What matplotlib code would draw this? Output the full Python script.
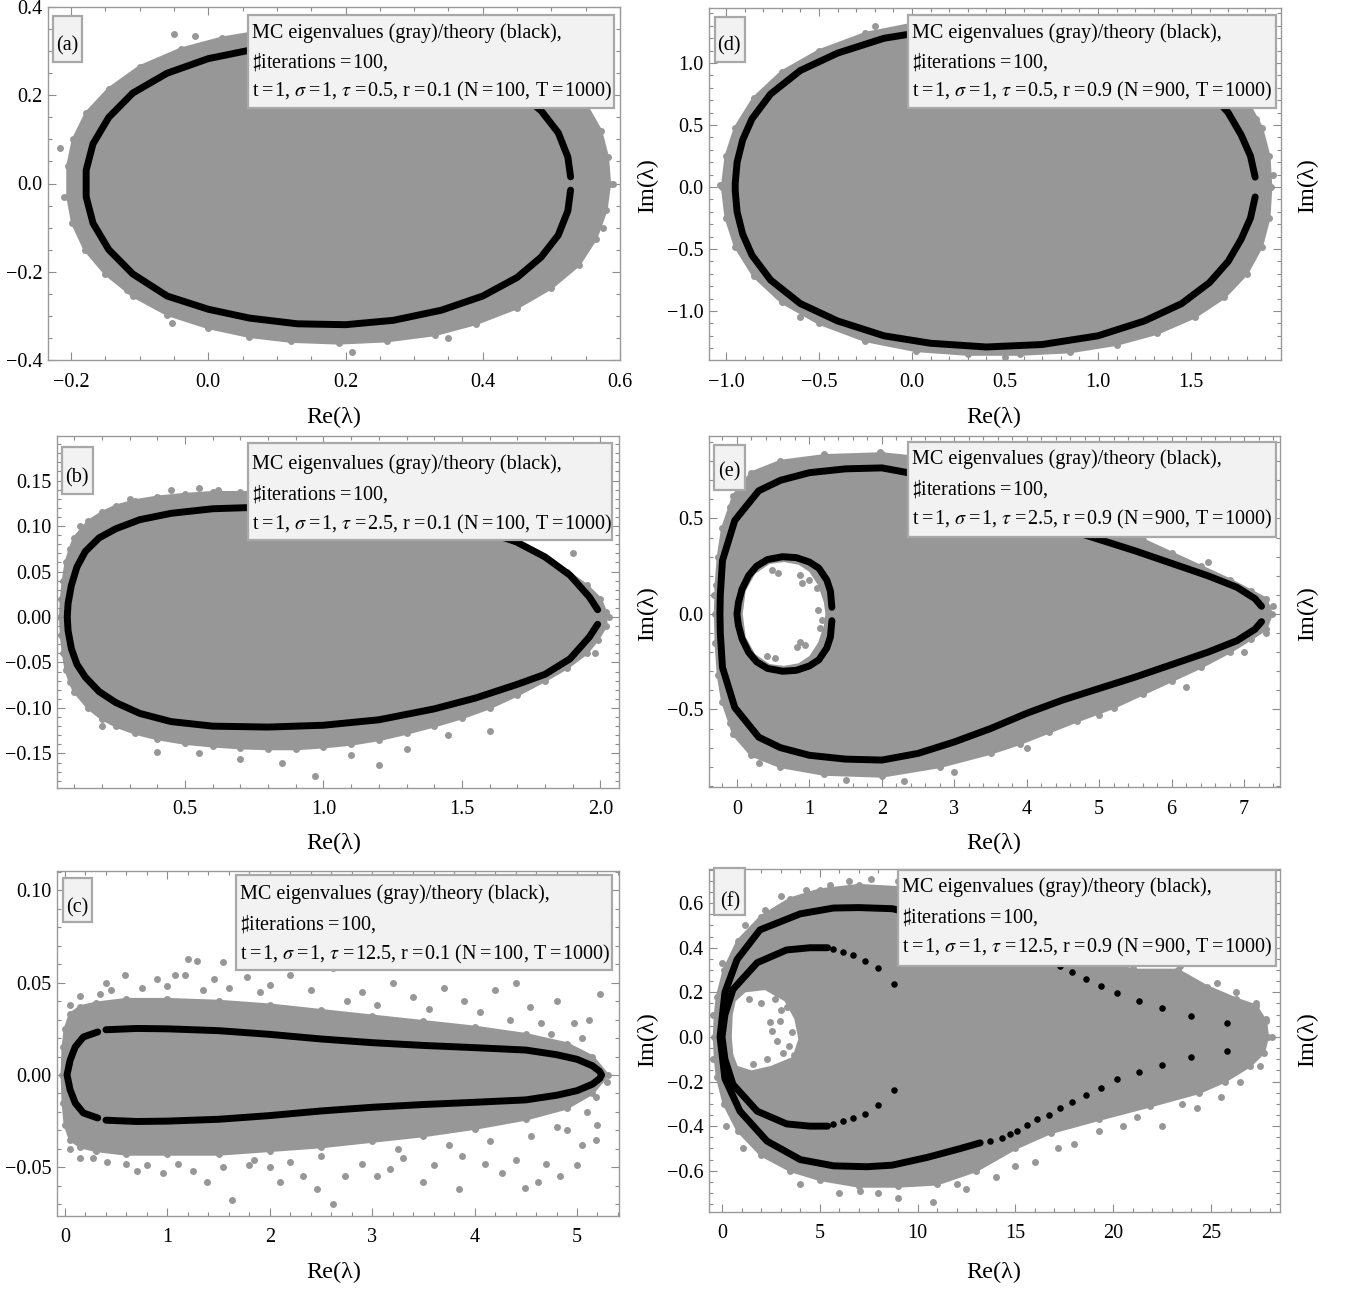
import numpy as np
import matplotlib.pyplot as plt
from matplotlib.patches import Rectangle
from matplotlib.ticker import MultipleLocator

plt.rcParams['font.family'] = ['Liberation Serif', 'DejaVu Serif']
plt.rcParams['mathtext.fontset'] = 'stix'

W, H = 1348, 1290
GRAY = '#979797'
BOXFACE = '#f2f2f2'
BOXEDGE = '#a8a8a8'

# ---------------- data ----------------
# (a) tau=0.5, r=0.1
a_cloud = [(0.585, 0.0), (0.582, 0.06), (0.572, 0.12), (0.55, 0.18), (0.52, 0.23), (0.48, 0.275),
           (0.43, 0.31), (0.37, 0.335), (0.3, 0.35), (0.23, 0.356), (0.16, 0.356), (0.09, 0.348),
           (0.02, 0.33), (-0.04, 0.305), (-0.1, 0.265), (-0.145, 0.215), (-0.178, 0.16), (-0.197, 0.1),
           (-0.205, 0.04), (-0.205, -0.03), (-0.198, -0.09), (-0.18, -0.15), (-0.15, -0.205),
           (-0.11, -0.255), (-0.06, -0.297), (0.0, -0.327), (0.06, -0.347), (0.12, -0.358),
           (0.19, -0.362), (0.26, -0.357), (0.33, -0.343), (0.39, -0.318), (0.45, -0.282),
           (0.5, -0.237), (0.54, -0.185), (0.565, -0.125), (0.58, -0.06)]
a_scatter = [(-0.216, 0.08), (-0.05, 0.338), (0.209, -0.382), (-0.053, -0.317), (-0.118, -0.242),
             (-0.02, 0.335), (0.59, 0.0), (0.575, -0.1), (0.35, -0.35), (-0.21, -0.03), (0.1, 0.358)]
a_theory = [(0.528, 0.015), (0.524, 0.06), (0.51, 0.115), (0.485, 0.165), (0.45, 0.21), (0.4, 0.253),
            (0.34, 0.285), (0.27, 0.308), (0.2, 0.318), (0.13, 0.316), (0.06, 0.302), (0.0, 0.283),
            (-0.06, 0.25), (-0.11, 0.205), (-0.145, 0.15), (-0.168, 0.09), (-0.178, 0.03), (-0.178, -0.03),
            (-0.168, -0.09), (-0.145, -0.15), (-0.11, -0.205), (-0.06, -0.255), (0.0, -0.285),
            (0.06, -0.305), (0.13, -0.318), (0.2, -0.32), (0.27, -0.31), (0.34, -0.287), (0.4, -0.255),
            (0.45, -0.213), (0.485, -0.167), (0.51, -0.117), (0.524, -0.062), (0.528, -0.015)]

# (d) tau=0.5, r=0.9
d_cloud = [(1.93, 0.0), (1.92, 0.25), (1.88, 0.48), (1.8, 0.7), (1.68, 0.9), (1.52, 1.06), (1.32, 1.19),
           (1.1, 1.28), (0.85, 1.34), (0.58, 1.37), (0.3, 1.36), (0.02, 1.32), (-0.25, 1.24), (-0.5, 1.1),
           (-0.7, 0.93), (-0.85, 0.72), (-0.95, 0.48), (-1.0, 0.25), (-1.02, 0.0), (-1.0, -0.25),
           (-0.95, -0.48), (-0.85, -0.72), (-0.7, -0.93), (-0.5, -1.1), (-0.25, -1.24), (0.02, -1.32),
           (0.3, -1.35), (0.58, -1.35), (0.85, -1.33), (1.1, -1.27), (1.32, -1.18), (1.52, -1.05),
           (1.68, -0.89), (1.8, -0.7), (1.88, -0.48), (1.92, -0.25)]
d_scatter = [(-1.03, 0.02), (-0.92, 0.47), (-0.79, 0.71), (1.62, -0.85), (1.91, -0.03), (1.94, 0.1),
             (-0.6, -1.05), (0.5, -1.37), (-0.2, 1.3), (1.5, 1.02), (1.85, 0.55), (1.7, -0.8)]
d_theory = [(1.845, 0.08), (1.82, 0.25), (1.77, 0.42), (1.7, 0.6), (1.6, 0.77), (1.45, 0.94),
            (1.25, 1.08), (1.0, 1.2), (0.7, 1.27), (0.4, 1.29), (0.1, 1.26), (-0.15, 1.2), (-0.4, 1.08),
            (-0.6, 0.94), (-0.76, 0.75), (-0.86, 0.55), (-0.91, 0.38), (-0.94, 0.2), (-0.95, 0.03),
            (-0.95, -0.03), (-0.94, -0.2), (-0.91, -0.38), (-0.86, -0.55), (-0.76, -0.75), (-0.6, -0.94),
            (-0.4, -1.08), (-0.15, -1.2), (0.1, -1.26), (0.4, -1.29), (0.7, -1.27), (1.0, -1.2),
            (1.25, -1.08), (1.45, -0.94), (1.6, -0.77), (1.7, -0.6), (1.77, -0.42), (1.82, -0.25),
            (1.845, -0.08)]

# (b) tau=2.5, r=0.1
b_cloud = [(0.05, 0.0), (0.053, 0.02), (0.06, 0.04), (0.07, 0.06), (0.085, 0.075), (0.1, 0.087),
           (0.15, 0.105), (0.2, 0.115), (0.25, 0.122), (0.32, 0.128), (0.4, 0.132), (0.5, 0.135),
           (0.6, 0.137), (0.7, 0.137), (0.8, 0.137), (0.9, 0.135), (1.0, 0.132), (1.1, 0.128),
           (1.2, 0.123), (1.3, 0.116), (1.4, 0.108), (1.5, 0.099), (1.6, 0.088), (1.7, 0.076),
           (1.8, 0.063), (1.88, 0.05), (1.95, 0.035), (2.0, 0.02), (2.02, 0.005), (2.02, -0.01),
           (1.99, -0.025), (1.95, -0.04), (1.88, -0.056), (1.8, -0.07), (1.7, -0.086), (1.6, -0.1),
           (1.5, -0.111), (1.4, -0.12), (1.3, -0.128), (1.2, -0.135), (1.1, -0.14), (1.0, -0.143),
           (0.9, -0.145), (0.8, -0.145), (0.7, -0.144), (0.6, -0.142), (0.5, -0.139), (0.4, -0.134),
           (0.32, -0.128), (0.25, -0.12), (0.2, -0.112), (0.15, -0.1), (0.1, -0.082), (0.085, -0.072),
           (0.07, -0.058), (0.06, -0.04), (0.053, -0.02)]
b_scatter = [(0.55, 0.142), (0.62, 0.14), (0.3, 0.13), (1.45, 0.118), (1.7, 0.092), (1.9, 0.07),
             (2.03, 0.0), (1.98, -0.04), (1.6, -0.125), (1.3, -0.145), (0.7, -0.156), (0.85, -0.16),
             (0.4, -0.148), (0.2, -0.12), (0.97, -0.175), (1.2, -0.163), (0.28, -0.118), (1.1, -0.152),
             (0.45, 0.14), (0.75, 0.143), (1.55, 0.105), (1.45, -0.13), (0.55, -0.15), (0.12, 0.1)]
b_theory = [(1.99, 0.008), (1.96, 0.022), (1.89, 0.046), (1.8, 0.066), (1.7, 0.082), (1.55, 0.098),
            (1.4, 0.108), (1.2, 0.116), (1.0, 0.12), (0.8, 0.121), (0.6, 0.119), (0.45, 0.114),
            (0.337, 0.107), (0.25, 0.097), (0.19, 0.087), (0.14, 0.072), (0.11, 0.055), (0.09, 0.035),
            (0.078, 0.015), (0.075, 0.0), (0.078, -0.015), (0.09, -0.035), (0.11, -0.052),
            (0.14, -0.066), (0.19, -0.082), (0.25, -0.094), (0.337, -0.106), (0.45, -0.115),
            (0.6, -0.12), (0.8, -0.121), (1.0, -0.119), (1.2, -0.113), (1.4, -0.101), (1.55, -0.089),
            (1.7, -0.074), (1.8, -0.063), (1.89, -0.046), (1.96, -0.022), (1.99, -0.008)]

# (e) tau=2.5, r=0.9
e_cloud = [(-0.3, 0.0), (-0.29, 0.15), (-0.26, 0.3), (-0.2, 0.45), (-0.1, 0.56), (-0.05, 0.62),
           (0.2, 0.74), (0.6, 0.8), (1.2, 0.83), (2.0, 0.84), (2.5, 0.82), (2.8, 0.8), (3.5, 0.72),
           (4.3, 0.6), (5.2, 0.45), (5.6, 0.39), (6.0, 0.32), (6.4, 0.25), (6.8, 0.18), (7.1, 0.12),
           (7.3, 0.08), (7.38, 0.0), (7.3, -0.08), (7.1, -0.13), (6.8, -0.2), (6.4, -0.28),
           (6.0, -0.35), (5.6, -0.42), (5.2, -0.49), (4.7, -0.56), (4.3, -0.62), (3.9, -0.68),
           (3.5, -0.73), (2.8, -0.8), (2.0, -0.85), (1.2, -0.84), (0.6, -0.8), (0.2, -0.74),
           (-0.05, -0.63), (-0.1, -0.57), (-0.2, -0.46), (-0.26, -0.32), (-0.29, -0.15)]
e_hole = [(0.08, 0.0), (0.12, 0.12), (0.25, 0.21), (0.45, 0.262), (0.65, 0.272), (0.85, 0.258),
          (1.0, 0.22), (1.12, 0.15), (1.2, 0.06), (1.22, 0.0), (1.2, -0.06), (1.12, -0.15),
          (1.0, -0.22), (0.85, -0.258), (0.65, -0.272), (0.45, -0.262), (0.25, -0.21), (0.12, -0.12)]
e_scatter = [(1.97, 0.85), (1.2, 0.84), (0.0, 0.66), (-0.32, 0.1), (-0.3, -0.15), (0.3, -0.78),
             (1.5, -0.87), (2.3, -0.875), (3.0, -0.83), (4.0, -0.7), (5.0, -0.53), (6.2, -0.38),
             (7.0, -0.2), (7.4, 0.04), (7.3, -0.1), (6.5, 0.27), (5.6, 0.42),
             (0.57, 0.215), (0.87, 0.204), (1.0, 0.178), (0.9, 0.162), (1.12, 0.02), (1.17, -0.03),
             (1.15, -0.073), (0.87, -0.147), (0.94, -0.162), (0.41, -0.22), (0.52, -0.23),
             (0.83, -0.173), (0.48, 0.23), (1.1, 0.136)]
e_outer = [(7.24, 0.04), (7.15, 0.08), (6.9, 0.14), (6.5, 0.2), (6.0, 0.265), (5.5, 0.33), (5.0, 0.39),
           (4.5, 0.45), (4.0, 0.52), (3.5, 0.6), (3.0, 0.67), (2.5, 0.73), (2.0, 0.765), (1.5, 0.76),
           (1.0, 0.74), (0.6, 0.7), (0.3, 0.645), (-0.03, 0.49), (-0.2, 0.28), (-0.23, 0.1),
           (-0.235, 0.0), (-0.23, -0.1), (-0.2, -0.28), (-0.03, -0.49), (0.3, -0.645), (0.6, -0.7),
           (1.0, -0.74), (1.5, -0.76), (2.0, -0.765), (2.5, -0.73), (3.0, -0.67), (3.5, -0.6),
           (4.0, -0.52), (4.5, -0.45), (5.0, -0.39), (5.5, -0.33), (6.0, -0.265), (6.5, -0.2),
           (6.9, -0.14), (7.15, -0.08), (7.24, -0.04)]
e_inner = [(1.31, 0.035), (1.29, 0.12), (1.24, 0.178), (1.13, 0.24), (1.0, 0.272), (0.82, 0.295),
           (0.63, 0.3), (0.42, 0.285), (0.27, 0.25), (0.16, 0.2), (0.07, 0.13), (0.02, 0.06), (0.0, 0.0),
           (0.02, -0.06), (0.07, -0.13), (0.16, -0.2), (0.27, -0.25), (0.42, -0.285), (0.63, -0.3),
           (0.82, -0.295), (1.0, -0.272), (1.13, -0.24), (1.24, -0.178), (1.29, -0.12), (1.31, -0.035)]

# (c) tau=12.5, r=0.1
c_cloud = [(-0.03, 0.0), (-0.02, 0.015), (0.0, 0.025), (0.05, 0.033), (0.15, 0.037), (0.3, 0.039),
           (0.6, 0.041), (1.0, 0.041), (1.5, 0.04), (2.0, 0.038), (2.5, 0.035), (3.0, 0.032),
           (3.5, 0.029), (4.0, 0.026), (4.5, 0.022), (4.9, 0.017), (5.15, 0.01), (5.3, 0.0),
           (5.15, -0.01), (4.9, -0.018), (4.5, -0.024), (4.0, -0.029), (3.5, -0.033), (3.0, -0.036),
           (2.5, -0.039), (2.0, -0.041), (1.5, -0.043), (1.0, -0.043), (0.6, -0.043), (0.3, -0.041),
           (0.15, -0.039), (0.05, -0.035), (0.0, -0.027), (-0.02, -0.015)]
c_scatter = [(1.2, 0.063), (1.29, 0.062), (1.54, 0.061), (1.17, 0.054), (1.07, 0.054), (0.9, 0.052),
             (0.59, 0.054), (1.46, 0.052), (1.78, 0.053), (2.0, 0.049), (0.34, 0.044), (0.27, -0.045),
             (0.41, -0.047), (0.6, -0.048), (0.96, -0.053), (1.39, -0.058), (1.63, -0.068),
             (2.1, -0.058), (2.46, -0.062), (2.62, -0.07), (1.54, -0.05), (1.8, -0.049), (2.32, -0.055),
             (2.2, 0.054), (2.62, 0.058), (4.97, 0.028), (4.8, 0.04), (4.54, 0.037), (5.19, -0.012),
             (5.2, -0.027), (5.19, -0.035), (5.0, -0.049), (4.83, -0.055), (4.62, -0.058),
             (4.49, -0.061), (3.85, -0.062), (3.5, -0.058), (4.27, -0.053), (3.05, -0.055),
             (2.73, -0.055), (3.6, -0.049), (4.1, -0.048), (3.17, -0.051), (3.88, -0.044),
             (5.29, -0.004), (4.7, -0.048), (5.12, 0.03), (5.22, 0.044), (2.9, 0.045), (3.2, 0.05),
             (3.4, 0.042), (3.7, 0.047), (3.9, 0.04), (4.2, 0.046), (4.4, 0.05), (2.4, 0.046),
             (1.9, 0.045), (1.6, 0.047), (0.75, 0.047), (0.45, 0.046), (0.15, 0.043), (0.15, -0.045),
             (0.8, -0.049), (1.1, -0.048), (1.25, -0.052), (2.0, -0.05), (2.9, -0.048), (3.3, -0.045),
             (4.4, -0.046), (5.05, -0.038), (4.9, -0.03), (2.75, 0.04), (3.05, 0.038), (3.55, 0.036),
             (4.05, 0.034), (4.35, 0.03), (4.65, 0.028), (4.75, 0.022), (5.05, 0.02), (3.25, -0.04),
             (3.75, -0.038), (4.15, -0.036), (4.55, -0.033), (4.8, -0.028), (5.1, -0.02), (2.5, -0.044),
             (0.05, 0.038), (0.05, -0.04), (1.35, 0.046), (1.85, -0.046), (2.2, -0.047), (0.4, 0.05),
             (1.0, 0.048), (0.7, -0.052)]
c_cap = [(0.32, 0.0233), (0.18, 0.0206), (0.1, 0.0152), (0.05, 0.008), (0.02, 0.0), (0.05, -0.008),
         (0.1, -0.0152), (0.18, -0.0206), (0.32, -0.0233)]
c_branch = [(0.4, 0.0245), (0.7, 0.0252), (1.0, 0.025), (1.5, 0.024), (2.0, 0.022), (2.5, 0.0195),
            (3.0, 0.0175), (3.5, 0.016), (4.0, 0.0148), (4.5, 0.0135), (4.8, 0.011), (5.0, 0.0085),
            (5.15, 0.005), (5.22, 0.002), (5.24, 0.0), (5.22, -0.002), (5.15, -0.005), (5.0, -0.0085),
            (4.8, -0.011), (4.5, -0.0135), (4.0, -0.0148), (3.5, -0.016), (3.0, -0.0175),
            (2.5, -0.0195), (2.0, -0.022), (1.5, -0.024), (1.0, -0.025), (0.7, -0.0252),
            (0.4, -0.0245)]

# (f) tau=12.5, r=0.9
f_cloud = [(-0.4, 0.0), (-0.35, 0.1), (-0.25, 0.18), (0.1, 0.3), (0.8, 0.43), (2.0, 0.54), (3.5, 0.62),
           (5.0, 0.66), (7.0, 0.68), (9.0, 0.67), (11.0, 0.63), (13.0, 0.57), (15.0, 0.5), (17.0, 0.43),
           (19.0, 0.36), (21.0, 0.3), (23.3, 0.3), (24.8, 0.226), (26.3, 0.17), (27.3, 0.14),
           (27.8, 0.07), (27.9, 0.0), (27.7, -0.07), (27.0, -0.13), (25.7, -0.2), (24.4, -0.25),
           (21.9, -0.31), (19.3, -0.37), (16.8, -0.43), (15.0, -0.5), (13.0, -0.6), (11.0, -0.66),
           (9.0, -0.67), (7.0, -0.67), (5.0, -0.64), (3.5, -0.6), (2.0, -0.53), (0.8, -0.42),
           (0.1, -0.3), (-0.25, -0.18), (-0.35, -0.1)]
f_hole = [(0.5, 0.0), (0.55, 0.1), (0.7, 0.16), (1.2, 0.2), (2.2, 0.21), (3.2, 0.16), (3.7, 0.08),
          (3.9, -0.01), (3.6, -0.09), (2.5, -0.13), (1.5, -0.15), (0.8, -0.13), (0.58, -0.08)]
f_scatter = [(7.6, 0.71), (9.0, 0.7), (5.5, 0.68), (3.0, 0.63), (1.2, 0.5), (0.0, 0.33), (-0.45, 0.1),
             (-0.45, -0.1), (0.2, -0.4), (1.07, -0.5), (4.0, -0.66), (6.0, -0.7), (7.05, -0.69),
             (9.0, -0.72), (10.8, -0.74), (12.5, -0.68), (14.0, -0.63), (16.0, -0.56), (18.0, -0.48),
             (19.3, -0.42), (20.5, -0.4), (22.5, -0.4), (24.3, -0.32), (25.5, -0.27), (26.5, -0.2),
             (27.5, -0.13), (28.1, 0.0), (27.8, 0.08), (27.3, 0.15), (26.3, 0.2), (25.3, 0.24),
             (23.4, 0.32), (21.0, 0.31), (19.5, 0.34), (6.5, 0.7), (4.3, 0.66), (2.2, 0.57),
             (12.0, -0.66), (15.0, -0.58), (17.2, -0.5), (21.2, -0.36), (23.5, -0.3), (8.0, -0.7),
             (2.45, 0.067), (2.96, 0.072), (2.55, 0.028), (3.1, -0.07), (3.6, 0.02), (3.3, 0.135),
             (2.3, -0.1), (3.0, 0.12), (3.4, -0.04), (2.8, -0.02), (2.0, 0.15), (3.7, -0.08),
             (1.6, -0.12), (2.7, 0.17), (1.4, 0.17)]
f_outer = [(14.3, 0.453), (12.2, 0.5), (10.5, 0.54), (8.7, 0.575), (7.0, 0.58), (5.7, 0.578),
           (4.0, 0.552), (1.94, 0.48), (0.77, 0.347), (0.15, 0.2), (-0.1, 0.0), (0.15, -0.187),
           (0.92, -0.333), (2.3, -0.467), (4.0, -0.55), (5.7, -0.578), (7.4, -0.582), (8.7, -0.575),
           (10.5, -0.54), (12.2, -0.5), (13.2, -0.475)]
f_outer_dots = [(13.7, -0.465), (14.3, -0.455), (14.7, -0.437), (15.1, -0.42), (15.6, -0.395),
                (16.1, -0.37), (16.7, -0.35), (17.3, -0.32), (17.9, -0.29), (18.6, -0.26),
                (19.4, -0.227), (20.2, -0.19), (21.3, -0.157), (22.5, -0.124), (24.0, -0.089),
                (25.8, -0.062), (25.8, 0.062), (24.0, 0.093), (22.5, 0.129), (21.3, 0.16),
                (20.2, 0.196), (19.4, 0.227), (18.6, 0.262), (17.9, 0.293), (17.3, 0.32)]
f_inner = [(5.4, 0.4), (4.5, 0.4), (3.3, 0.39), (1.8, 0.333), (0.56, 0.213), (0.15, 0.1), (0.0, 0.0),
           (0.15, -0.1), (0.56, -0.213), (1.8, -0.333), (3.3, -0.39), (4.5, -0.4), (5.4, -0.4)]
f_inner_dots = [(5.7, 0.396), (6.2, 0.382), (6.7, 0.369), (7.3, 0.342), (8.0, 0.307), (8.8, 0.236),
                (5.7, -0.39), (6.2, -0.378), (6.7, -0.364), (7.3, -0.347), (8.0, -0.307),
                (8.8, -0.236)]

taus = ['0.5', '2.5', '12.5']

EQ = '\u2009=\u200a'


def to_xy(pts):
    arr = np.array(pts, dtype=float)
    return arr[:, 0], arr[:, 1]


def fx(px):
    return px / W


def fy(py):
    return 1 - py / H


def add_axes_px(fig, l, t, r, b):
    return fig.add_axes([fx(l), fy(b), (r - l) / W, (b - t) / H])


def style_axes(ax, xlim, ylim, xmaj, xmin, ymaj, ymin, xfmt, yfmt):
    ax.set_xlim(*xlim)
    ax.set_ylim(*ylim)
    ax.xaxis.set_major_locator(MultipleLocator(xmaj))
    ax.xaxis.set_minor_locator(MultipleLocator(xmin))
    ax.yaxis.set_major_locator(MultipleLocator(ymaj))
    ax.yaxis.set_minor_locator(MultipleLocator(ymin))
    ax.xaxis.set_major_formatter(plt.FuncFormatter(lambda v, p: (xfmt % v).replace('-', '\u2212')))
    ax.yaxis.set_major_formatter(plt.FuncFormatter(lambda v, p: (yfmt % v).replace('-', '\u2212')))
    for s in ax.spines.values():
        s.set_color('#9a9a9a')
        s.set_linewidth(1.0)
    ax.tick_params(which='both', direction='in', top=True, right=True, color='#8c8c8c',
                   labelsize=14.5, labelcolor='black', width=0.8)
    ax.tick_params(which='major', length=6)
    ax.tick_params(which='minor', length=3)
    ax.tick_params(axis='x', pad=9)
    ax.tick_params(axis='y', pad=4)


def draw_cloud(ax, cloud, scatter, hole=None):
    cx, cy = to_xy(cloud)
    ax.fill(cx, cy, color=GRAY, lw=2, ec=GRAY, zorder=1)
    ax.plot(cx, cy, 'o', color=GRAY, ms=5, mew=0, zorder=1.2)
    if hole is not None:
        hx, hy = to_xy(hole)
        ax.fill(hx, hy, color='white', lw=0, zorder=1.5)
    sx, sy = to_xy(scatter)
    ax.plot(sx, sy, 'o', color=GRAY, ms=5, mew=0, zorder=2)


def draw_line(ax, pts):
    x, y = to_xy(pts)
    ax.plot(x, y, '-', color='black', lw=5, solid_capstyle='round', zorder=3)


def draw_dots(ax, pts):
    x, y = to_xy(pts)
    ax.plot(x, y, 'o', color='black', ms=4.7, mew=0, zorder=3)


def legend_box(fig, box, tx, ys, tau, r, n):
    l, t, rr, b = box
    fig.patches.append(Rectangle((fx(l), fy(b)), (rr - l) / W, (b - t) / H, transform=fig.transFigure,
                                 facecolor=BOXFACE, edgecolor=BOXEDGE, lw=1.6, zorder=5))
    lines = ['MC eigenvalues (gray)/theory (black),',
             r'$\sharp$iterations' + EQ + '100,',
             't' + EQ + '1, $\\sigma$' + EQ + '1, $\\tau$' + EQ + tau + ', r' + EQ + r +
             ' (N' + EQ + n + ', T' + EQ + '1000)']
    for y, s in zip(ys, lines):
        fig.text(fx(tx), fy(y), s, fontsize=14.5, va='center', ha='left', zorder=6)


def panel_label(fig, box, pos, lab):
    l, t, rr, b = box
    fig.patches.append(Rectangle((fx(l), fy(b)), (rr - l) / W, (b - t) / H, transform=fig.transFigure,
                                 facecolor=BOXFACE, edgecolor=BOXEDGE, lw=1.6, zorder=5))
    fig.text(fx(pos[0]), fy(pos[1]), lab, fontsize=14.5, ha='center', va='center', zorder=6)


fig = plt.figure(figsize=(W / 100, H / 100), dpi=100)

# (a)
ax = add_axes_px(fig, 48, 7, 620, 360)
style_axes(ax, (-0.2336, 0.6), (-0.4, 0.4), 0.2, 0.05, 0.2, 0.05, '%.1f', '%.1f')
draw_cloud(ax, a_cloud, a_scatter)
draw_line(ax, a_theory)

# (d)
ax = add_axes_px(fig, 709, 8, 1281, 360)
style_axes(ax, (-1.091, 1.984), (-1.395, 1.444), 0.5, 0.1, 0.5, 0.1, '%.1f', '%.1f')
draw_cloud(ax, d_cloud, d_scatter)
draw_line(ax, d_theory)

# (b)
ax = add_axes_px(fig, 57, 436, 619, 788)
style_axes(ax, (0.038, 2.067), (-0.188, 0.199), 0.5, 0.1, 0.05, 0.01, '%.1f', '%.2f')
draw_cloud(ax, b_cloud, b_scatter)
draw_line(ax, b_theory)

# (e)
ax = add_axes_px(fig, 709, 436, 1280, 787)
style_axes(ax, (-0.386, 7.495), (-0.906, 0.932), 1, 0.2, 0.5, 0.1, '%d', '%.1f')
draw_cloud(ax, e_cloud, e_scatter, e_hole)
draw_line(ax, e_outer)
draw_line(ax, e_inner)

# (c)
ax = add_axes_px(fig, 57, 871, 619, 1216)
style_axes(ax, (-0.078, 5.41), (-0.0764, 0.1105), 1, 0.2, 0.05, 0.01, '%d', '%.2f')
draw_cloud(ax, c_cloud, c_scatter)
draw_line(ax, c_cap)
draw_line(ax, c_branch)

# (f)
ax = add_axes_px(fig, 709, 869, 1280, 1212)
style_axes(ax, (-0.665, 28.53), (-0.785, 0.753), 5, 1, 0.2, 0.05, '%d', '%.1f')
draw_cloud(ax, f_cloud, f_scatter, f_hole)
draw_line(ax, f_outer)
draw_dots(ax, f_outer_dots)
draw_line(ax, f_inner)
draw_dots(ax, f_inner_dots)

# legends
legend_box(fig, (248, 15, 614, 108), 252, (33, 62, 91), taus[0], '0.1', '100')
legend_box(fig, (908, 15, 1276, 108), 912, (33, 62, 91), taus[0], '0.9', '900')
legend_box(fig, (248, 443, 612, 540), 252, (464, 494, 524), taus[1], '0.1', '100')
legend_box(fig, (908, 442, 1276, 537), 912, (459, 489, 519), taus[1], '0.9', '900')
legend_box(fig, (236, 875, 612, 970), 240, (894, 924, 954), taus[2], '0.1', '100')
legend_box(fig, (898, 870, 1276, 966), 902, (887, 917, 947), taus[2], '0.9', '900')

panel_label(fig, (53, 16, 82, 62), (67, 46), '(a)')
panel_label(fig, (715, 17, 745, 62), (729, 46), '(d)')
panel_label(fig, (62, 447, 93, 494), (77, 478), '(b)')
panel_label(fig, (714, 445, 745, 490), (729, 472), '(e)')
panel_label(fig, (63, 878, 92, 922), (77, 908), '(c)')
panel_label(fig, (714, 868, 745, 915), (730, 902), '(f)')

# axis labels
for xc, yc in [(334, 417), (994, 417), (334, 843), (994, 843), (334, 1272), (994, 1272)]:
    fig.text(fx(xc), fy(yc), 'Re(\u03bb)', fontsize=17.5, ha='center', va='center')
for yc in [186, 614, 1040]:
    fig.text(fx(648), fy(yc), 'Im(\u03bb)', fontsize=17.5, ha='center', va='center', rotation=90)
    fig.text(fx(1308), fy(yc), 'Im(\u03bb)', fontsize=17.5, ha='center', va='center', rotation=90)

fig.savefig('out.png', dpi=100)
